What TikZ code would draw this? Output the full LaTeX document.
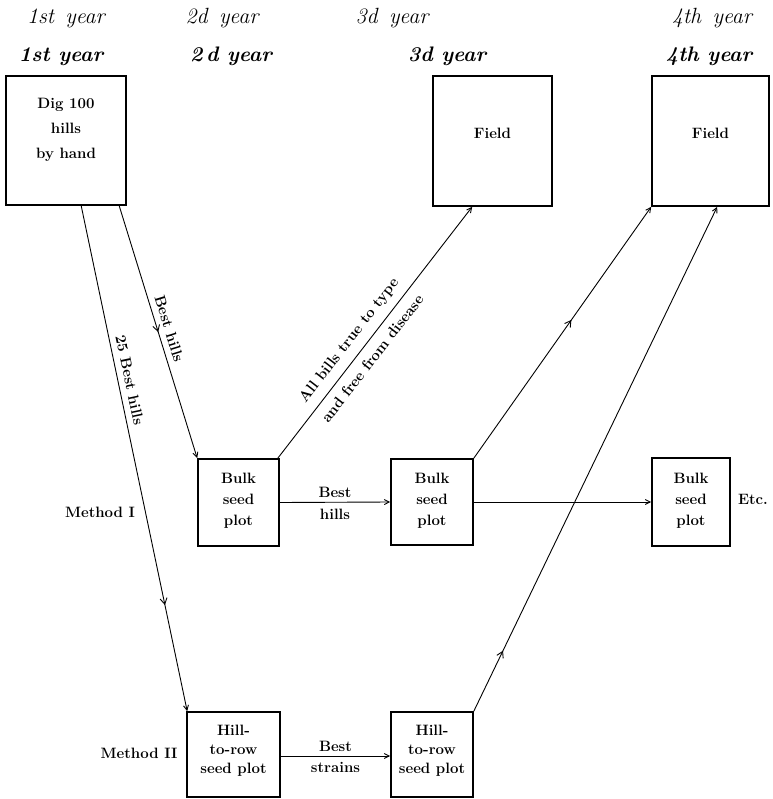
\documentclass[tikz,border=0pt]{standalone}
\usetikzlibrary{arrows.meta,decorations.markings,calc}
\begin{document}
\begin{tikzpicture}[x=1pt,y=-1pt,
  box/.style={draw, line width=1.6pt, rectangle, inner sep=0pt},
  boxtext/.style={align=center, font=\fontsize{15}{#1}\selectfont\bfseries},
  lbl/.style={font=\fontsize{15}{17}\selectfont\bfseries, inner sep=1pt},
  hdrA/.style={font=\fontsize{22}{26}\selectfont\itshape, anchor=base},
  hdrB/.style={font=\fontsize{21}{25}\selectfont\bfseries\itshape, anchor=base},
  conn/.style={line width=0.9pt, -{Straight Barb[length=5pt,width=5pt]}},
  midarrow/.style={postaction={decorate}, decoration={markings,
     mark=at position #1 with {\arrow{Straight Barb[length=6pt,width=7pt,line width=0.9pt]}}}}
]
\useasboundingbox[fill=white] (0,0) rectangle (772,799);

% header rows
\node[hdrA] (h1a) at (66,24) {1st\, year};
\node[hdrA] (h2a) at (222,24) {2d\, year};
\node[hdrA] (h3a) at (392,24) {3d\, year};
\node[hdrA] (h4a) at (712,24) {4th\, year};
\node[hdrB] (h1b) at (61,62) {1st year};
\node[hdrB] (h2b) at (231,62) {2\,d year};
\node[hdrB] (h3b) at (447,62) {3d year};
\node[hdrB] (h4b) at (709,62) {4th year};

% boxes
\node[box, minimum width=120pt, minimum height=129pt] (dig) at (66,140.5) {};
\node[box, minimum width=119pt, minimum height=130pt] (field3) at (492.5,141) {};
\node[box, minimum width=117pt, minimum height=130pt] (field4) at (710.5,141) {};
\node[box, minimum width=81pt, minimum height=87pt] (bulk1) at (238.5,502.5) {};
\node[box, minimum width=82pt, minimum height=86pt] (bulk2) at (432,502) {};
\node[box, minimum width=78pt, minimum height=88pt] (bulk3) at (691,502) {};
\node[box, minimum width=93pt, minimum height=85pt] (hill1) at (233.5,754.5) {};
\node[box, minimum width=82pt, minimum height=85pt] (hill2) at (432,754.5) {};

% box texts
\node[boxtext=25] (digt) at (66,130) {Dig 100\\hills\\by hand};
\node[boxtext=15] (f3t) at (492.5,133) {Field};
\node[boxtext=15] (f4t) at (710.5,133) {Field};
\node[boxtext=21] (b1t) at (238.5,501) {Bulk\\seed\\plot};
\node[boxtext=21] (b2t) at (432,501) {Bulk\\seed\\plot};
\node[boxtext=21] (b3t) at (691,501) {Bulk\\seed\\plot};
\node[boxtext=19] (h1t) at (233.5,751) {Hill-\\to-row\\seed plot};
\node[boxtext=19] (h2t) at (432,751) {Hill-\\to-row\\seed plot};

% side labels
\node[lbl] (etc) at (753,499) {Etc.};
\node[lbl] (m1) at (100,512) {Method I};
\node[lbl] (m2) at (139,753) {Method II};

% connectors
\draw[conn, midarrow=0.79] ([xshift=76pt]dig.south west) --
  node[lbl, sloped, above=5pt, pos=0.35] {25 Best hills} ([xshift=1pt]hill1.north west);
\draw[conn, midarrow=0.5] ([xshift=114pt]dig.south west) --
  node[lbl, sloped, above=5pt, pos=0.5] {Best hills} (bulk1.north west);
\draw[conn] ([xshift=-2pt]bulk1.north east) --
  node[lbl, sloped, above=7pt, pos=0.43] {All bills true to type}
  node[lbl, sloped, below=7pt, pos=0.43] {and free from disease} ([xshift=40pt]field3.south west);
\draw[conn, midarrow=0.55] (bulk2.north east) -- (field4.south west);
\draw[conn, midarrow=0.12] (hill2.north east) -- ([xshift=66pt]field4.south west);
\draw[conn] (bulk1.east) --
  node[lbl, above=3pt] {Best}
  node[lbl, below=5pt] {hills} (bulk2.west);
\draw[conn] (bulk2.east) -- (bulk3.west);
\draw[conn] ([yshift=-1.5pt]hill1.east) --
  node[lbl, above=3pt] {Best}
  node[lbl, below=5pt] {strains} ([yshift=-1.5pt]hill2.west);
\end{tikzpicture}
\end{document}
